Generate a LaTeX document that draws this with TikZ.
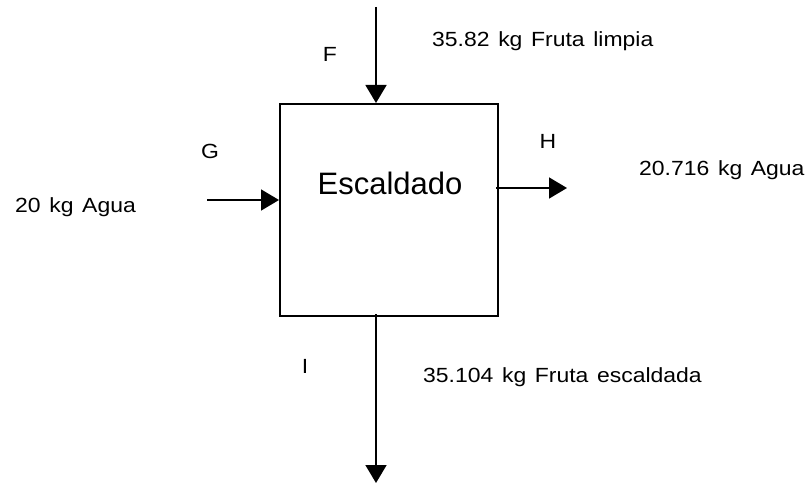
\documentclass[tikz,border=0pt]{standalone}
\usepackage{fontspec}
\setmainfont{Liberation Sans}[FakeStretch=1.12, WordSpace=1.35]
\newfontfamily\titlefont{Liberation Sans}
\usetikzlibrary{arrows.meta}
\begin{document}
\begin{tikzpicture}[x=1pt, y=-1pt,
  flow/.style={line width=1.6pt, -{Triangle[length=18pt, width=21pt]}},
  tag/.style={inner sep=0pt, font=\fontsize{20.5}{24}\selectfont},
  unitbox/.style={draw, line width=2pt, minimum width=218pt, minimum height=212pt, inner sep=0pt}]
  \useasboundingbox (0,0) rectangle (810,484);

  % process block
  \node[unitbox] (box) at (389,210) {};
  \node[inner sep=0pt, anchor=base, font=\titlefont\fontsize{31}{36}\selectfont] (title) at (390,194) {Escaldado};

  % free ends of the streams
  \coordinate (fin) at (376,7);
  \coordinate (gin) at (207,200);
  \coordinate (hout) at (567,188);
  \coordinate (iout) at (376,483);

  % streams
  \draw[flow] (fin) -- (fin |- box.north);
  \draw[flow] (gin) -- (gin -| box.west);
  \draw[flow] ([xshift=-3pt]hout -| box.east) -- (hout);
  \draw[flow] ([yshift=3pt]iout |- box.south) -- (iout);

  % stream letters
  \node[tag, anchor=base] (lf) at (330,62) {F};
  \node[tag, anchor=base] (lg) at (210,158) {G};
  \node[tag, anchor=base] (lh) at (548,148) {H};
  \node[tag, anchor=base] (li) at (305,373) {I};

  % stream quantities
  \node[tag, anchor=base west] (qf) at (432,47) {35.82 kg Fruta limpia};
  \node[tag, anchor=base west] (qg) at (15,212) {20 kg Agua};
  \node[tag, anchor=base west] (qh) at (639,175) {20.716 kg Agua};
  \node[tag, anchor=base west] (qi) at (423,382) {35.104 kg Fruta escaldada};
\end{tikzpicture}
\end{document}
